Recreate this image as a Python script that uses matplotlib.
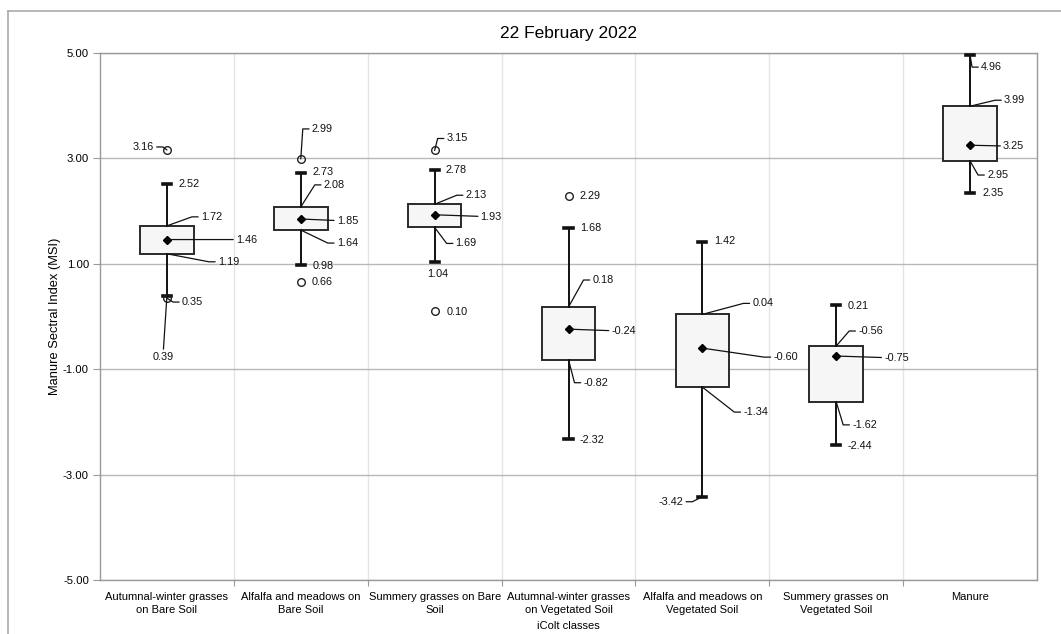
import math
import matplotlib
matplotlib.use("Agg")
import matplotlib.pyplot as plt
from matplotlib.lines import Line2D

plt.rcParams["font.family"] = ["Liberation Sans", "DejaVu Sans"]

# ---- data -----------------------------------------------------------------
categories = [
    "Autumnal-winter grasses\non Bare Soil",
    "Alfalfa and meadows on\nBare Soil",
    "Summery grasses on Bare\nSoil",
    "Autumnal-winter grasses\non Vegetated Soil",
    "Alfalfa and meadows on\nVegetated Soil",
    "Summery grasses on\nVegetated Soil",
    "Manure",
]
whisker_hi = [2.52, 2.73, 2.78, 1.68, 1.42, 0.21, 4.96]
q3_values = [1.72, 2.08, 2.13, 0.18, 0.04, -0.56, 3.99]
mean_values = [1.46, 1.85, 1.93, -0.24, -0.60, -0.75, 3.25]
q1_values = [1.19, 1.64, 1.69, -0.82, -1.34, -1.62, 2.95]
whisker_lo = [0.39, 0.98, 1.04, -2.32, -3.42, -2.44, 2.35]
outlier_values = [[3.16, 0.35], [2.99, 0.66], [3.15, 0.10], [2.29], [], [], []]

title = "22 February 2022"
x_title = "iColt classes"
y_title = "Manure Sectral Index (MSI)"
y_ticks = [-5, -3, -1, 1, 3, 5]

# ---- label placement (offset in pixels, alignment, leader line) -----------
# keys: whishi, q3, mean, q1, whislo, out0, out1
label_layout = [
    {"whishi": (12, 0, "left", False), "q3": (34, 9, "left", True),
     "mean": (69, 0, "left", True), "q1": (51, -8, "left", True),
     "whislo": (-4, -61, "center", True), "out0": (-13, 3, "right", True),
     "out1": (15, -4, "left", True)},
    {"whishi": (12, 1, "left", False), "q3": (23, 22, "left", True),
     "mean": (36, -2, "left", True), "q1": (36, -13, "left", True),
     "whislo": (12, -1, "left", False), "out0": (11, 30, "left", True),
     "out1": (11, 0, "left", False)},
    {"whishi": (11, 0, "left", False), "q3": (31, 9, "left", True),
     "mean": (46, -2, "left", True), "q1": (21, -16, "left", True),
     "whislo": (3, -12, "center", False), "out0": (12, 12, "left", True),
     "out1": (12, -1, "left", False)},
    {"whishi": (12, 0, "left", False), "q3": (24, 27, "left", True),
     "mean": (43, -2, "left", True), "q1": (15, -23, "left", True),
     "whislo": (11, -1, "left", False), "out0": (11, 0, "left", False)},
    {"whishi": (12, 1, "left", False), "q3": (50, 11, "left", True),
     "mean": (71, -9, "left", True), "q1": (41, -25, "left", True),
     "whislo": (-19, -5, "right", True)},
    {"whishi": (11, -1, "left", False), "q3": (22, 15, "left", True),
     "mean": (48, -2, "left", True), "q1": (16, -23, "left", True),
     "whislo": (11, -1, "left", False)},
    {"whishi": (11, -12, "left", True), "q3": (34, 6, "left", True),
     "mean": (33, -1, "left", True), "q1": (17, -14, "left", True),
     "whislo": (12, 0, "left", False)},
]

# ---- figure ---------------------------------------------------------------
W, H = 1061, 634
fig = plt.figure(figsize=(W / 100, H / 100), dpi=100)
ax = fig.add_axes([100 / W, 1 - 580 / H, 937 / W, 527 / H])

positions = list(range(len(categories)))
stats = []
for i in positions:
    stats.append({
        "whislo": whisker_lo[i], "q1": q1_values[i], "med": mean_values[i],
        "q3": q3_values[i], "whishi": whisker_hi[i], "mean": mean_values[i],
        "fliers": outlier_values[i],
    })

ax.bxp(
    stats, positions=positions, widths=0.4, capwidths=0.06,
    showmeans=True, patch_artist=True, zorder=3,
    boxprops=dict(facecolor="#f6f6f6", edgecolor="#2a2a2a", linewidth=1.4),
    whiskerprops=dict(color="#111111", linewidth=1.4),
    capprops=dict(color="#111111", linewidth=2.6),
    medianprops=dict(linewidth=0),
    meanprops=dict(marker="D", markerfacecolor="black", markeredgecolor="black",
                   markersize=4.0),
    flierprops=dict(marker="o", markerfacecolor="none", markeredgecolor="#222222",
                    markersize=5.5, markeredgewidth=1.0),
)

# ---- data labels ----------------------------------------------------------
KNEE = 9  # length of the horizontal stub next to each label (pixels)
for i in positions:
    vals = {"whishi": whisker_hi[i], "q3": q3_values[i], "mean": mean_values[i],
            "q1": q1_values[i], "whislo": whisker_lo[i]}
    for k, v in enumerate(outlier_values[i]):
        vals[f"out{k}"] = v
    for key, v in vals.items():
        dx, dy, ha, leader = label_layout[i][key]
        kw = {}
        if leader:
            if ha == "center" or abs(dy) < 3:
                cs = "arc3"
            else:
                kx = dx - KNEE if ha == "left" else dx + KNEE
                ang = math.degrees(math.atan2(dy, kx))
                cs = f"angle,angleA=0,angleB={ang:.1f},rad=0"
            kw["arrowprops"] = dict(arrowstyle="-", color="#111111", lw=0.9,
                                    shrinkA=0, shrinkB=0, connectionstyle=cs)
        ax.annotate(f"{v:.2f}", xy=(i, v), xytext=(dx, dy),
                    textcoords="offset pixels", ha=ha, va="center",
                    fontsize=7.8, color="#111111", zorder=4, **kw)

# ---- axes styling ---------------------------------------------------------
ax.set_xlim(-0.5, len(categories) - 0.5)
ax.set_ylim(-5, 5)
ax.set_yticks(y_ticks)
ax.set_yticklabels([f"{t:.2f}" for t in y_ticks], fontsize=8.2)
ax.set_xticks([p + 0.5 for p in positions[:-1]])
ax.set_xticklabels([])
ax.set_xticks(positions, minor=True)
ax.set_xticklabels(categories, minor=True, fontsize=8, linespacing=1.35)
ax.tick_params(axis="x", which="minor", length=0, pad=9)
ax.tick_params(axis="x", which="major", length=4, color="#999999", direction="out")
ax.tick_params(axis="y", length=5, color="#999999", direction="out", pad=3)

ax.grid(axis="y", color="#b8b8b8", linewidth=1.0, zorder=0)
ax.grid(axis="x", which="major", color="#e4e4e4", linewidth=1.0, zorder=0)
ax.set_axisbelow(True)
for s in ax.spines.values():
    s.set_color("#999999")
    s.set_linewidth(1.0)

ax.set_title(title, fontsize=12.5, pad=11)
ax.set_xlabel(x_title, fontsize=8, labelpad=4)
ax.set_ylabel(y_title, fontsize=9.3, labelpad=1)

# outer chart border
fig.add_artist(Line2D([8 / W, 8 / W], [0, 1 - 11 / H], transform=fig.transFigure,
                      color="#aaaaaa", linewidth=1.2))
fig.add_artist(Line2D([8 / W, 1], [1 - 11 / H, 1 - 11 / H], transform=fig.transFigure,
                      color="#aaaaaa", linewidth=1.2))

fig.savefig("out.png", dpi=100)
